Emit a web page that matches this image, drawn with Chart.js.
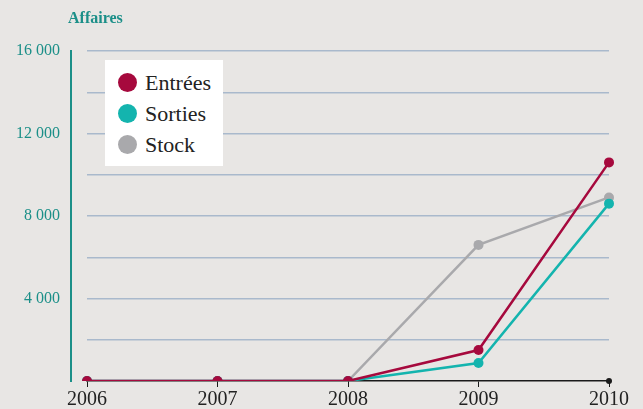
<!DOCTYPE html>
<html>
<head>
<meta charset="utf-8">
<script src="https://cdn.jsdelivr.net/npm/chart.js@4"></script>
<style>
  html, body { margin: 0; padding: 0; background: #e8e6e4; }
  #wrap { position: relative; width: 643px; height: 409px; }
  #legende {
    position: absolute; left: 105px; top: 60px; width: 118px; height: 106px;
    background: #ffffff; box-sizing: border-box; padding-top: 7px;
    font-family: "Liberation Serif", "DejaVu Serif", serif; font-size: 22px; color: #222;
  }
  #legende div { height: 31px; line-height: 26px; display: flex; align-items: center; }
  #legende span.puce { display: inline-block; width: 19px; height: 19px; border-radius: 50%; margin: 0 8px 0 13px; }
</style>
</head>
<body>
<div id="wrap">
  <canvas id="grafik" width="643" height="409"></canvas>
  <div id="legende"></div>
</div>
<script>
// Données
const annees = ['2006', '2007', '2008', '2009', '2010'];
const entrees = [0, 0, 0, 1500, 10600];
const sorties = [0, 0, 0, 870, 8600];
const stock = [0, 0, 0, 6600, 8900];
const graduations = [4000, 8000, 12000, 16000];

const teal = '#1b8f88';
const police = '"Liberation Serif", serif';

// Titre, axe vertical décalé et point final de l'axe horizontal
const decor = {
    id: 'decor',
    afterDraw(chart) {
        const ctx = chart.ctx;
        const area = chart.chartArea;
        const y = chart.scales.y;
        const x = chart.scales.x;
        ctx.save();
        ctx.fillStyle = teal;
        ctx.font = 'bold 16px ' + police;
        ctx.textBaseline = 'alphabetic';
        ctx.fillText('Affaires', 68, 23);

        ctx.strokeStyle = teal;
        ctx.lineWidth = 2;
        ctx.beginPath();
        ctx.moveTo(area.left - 16, y.getPixelForValue(16000) - 1);
        ctx.lineTo(area.left - 16, y.getPixelForValue(0) + 1);
        ctx.stroke();

        ctx.fillStyle = '#1a1a1a';
        ctx.beginPath();
        ctx.arc(x.getPixelForValue(annees.length - 1), y.getPixelForValue(0), 3, 0, Math.PI * 2);
        ctx.fill();
        ctx.restore();
    }
};

function serie(label, data, couleur, ordre) {
    return {
        label: label,
        data: data,
        borderColor: couleur,
        backgroundColor: couleur,
        pointBackgroundColor: couleur,
        pointBorderWidth: 0,
        pointRadius: 5,
        borderWidth: 2.5,
        tension: 0,
        order: ordre
    };
}

function dessiner() {
    const ctx = document.getElementById('grafik').getContext('2d');
    const chart = new Chart(ctx, {
        type: 'line',
        data: {
            labels: annees,
            datasets: [
                serie('Entrées', entrees, '#a6093d', 1),
                serie('Sorties', sorties, '#14b4ae', 2),
                serie('Stock', stock, '#a9a9ac', 3)
            ]
        },
        options: {
            responsive: false,
            animation: false,
            layout: { padding: { top: 51, right: 34, left: 0, bottom: 0 } },
            plugins: { legend: { display: false }, tooltip: { enabled: false } },
            scales: {
                x: {
                    offset: false,
                    afterFit(scale) { scale.height = 28; },
                    border: { display: true, color: '#1a1a1a', width: 1.5 },
                    grid: { drawOnChartArea: false, drawTicks: true, tickLength: 6, color: '#1a1a1a' },
                    ticks: { color: '#222', padding: 1, font: { family: police, size: 20 }, maxRotation: 0 }
                },
                y: {
                    min: 0,
                    max: 16000,
                    afterFit(scale) {
                        scale.width = 87;
                        scale.paddingTop = 0;
                        scale.paddingBottom = 0;
                    },
                    border: { display: false },
                    grid: {
                        color: (c) => c.tick && c.tick.value === 0 ? 'rgba(0,0,0,0)' : '#a9b9cc',
                        lineWidth: 1.5,
                        drawTicks: false
                    },
                    ticks: {
                        stepSize: 2000,
                        padding: 27,
                        color: teal,
                        font: { family: police, size: 16 },
                        callback: (v) => graduations.includes(v) ? String(v).replace(/\B(?=(\d{3})+$)/, ' ') : ''
                    }
                }
            }
        },
        plugins: [decor]
    });

    // Légende en HTML construite à partir des séries
    const legende = document.getElementById('legende');
    chart.data.datasets.forEach(ds => {
        const ligne = document.createElement('div');
        ligne.innerHTML = `<span class="puce" style="background:${ds.borderColor}"></span>${ds.label}`;
        legende.appendChild(ligne);
    });
}

document.fonts.load('16px "Liberation Serif"').then(dessiner, dessiner);
</script>
</body>
</html>
